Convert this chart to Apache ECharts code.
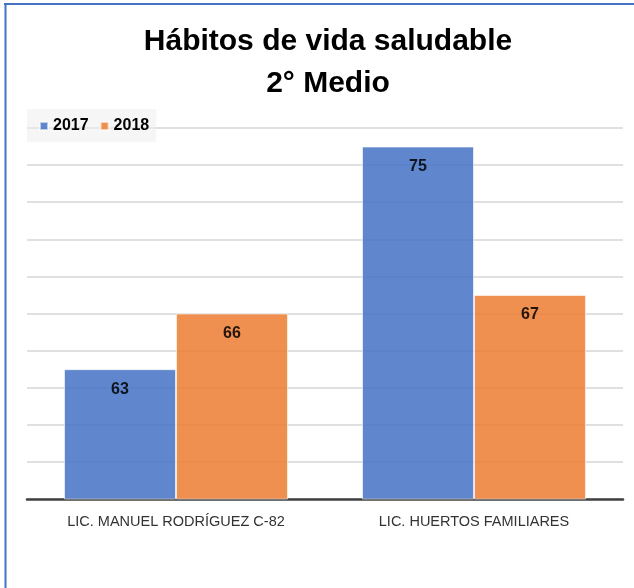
<!DOCTYPE html>
<html>
<head>
<meta charset="utf-8">
<title>Hábitos de vida saludable</title>
<script src="https://cdn.jsdelivr.net/npm/echarts@6/dist/echarts.min.js"></script>
<style>
    html, body {
        margin: 0;
        padding: 0;
        background: #fff;
    }
    #chart {
        width: 634px;
        height: 588px;
    }
</style>
</head>
<body>
<div id="chart"></div>
<script>
// data
const categories = ['LIC. MANUEL RODRÍGUEZ C-82', 'LIC. HUERTOS FAMILIARES'];
const years = ['2017', '2018'];
const values2017 = [63, 75];
const values2018 = [66, 67];

const font = 'Liberation Sans';

const chart = echarts.init(document.getElementById('chart'));

const option = {
    animation: false,
    backgroundColor: '#fff',
    title: {
        text: 'Hábitos de vida saludable\n2° Medio',
        left: 323,
        top: 16,
        textAlign: 'center',
        textStyle: {
            fontFamily: font,
            fontSize: 30,
            fontWeight: 'bold',
            color: '#000',
            lineHeight: 42
        }
    },
    legend: {
        data: years,
        left: 27,
        top: 109,
        padding: [9, 7, 8, 12],
        backgroundColor: 'rgba(238,238,238,0.5)',
        icon: 'rect',
        itemWidth: 8,
        itemHeight: 8,
        itemGap: 11,
        textStyle: {
            fontFamily: font,
            fontSize: 16,
            fontWeight: 'bold',
            color: '#000'
        }
    },
    grid: {
        left: 27,
        right: 11,
        top: 128,
        bottom: 89
    },
    xAxis: {
        type: 'category',
        data: categories,
        axisTick: { show: false },
        axisLine: {
            lineStyle: { color: '#404040', width: 2.5 }
        },
        axisLabel: {
            margin: 15,
            fontFamily: font,
            fontSize: 14.5,
            color: '#333'
        }
    },
    yAxis: {
        type: 'value',
        min: 56,
        max: 76,
        interval: 2,
        axisLabel: { show: false },
        axisLine: { show: false },
        axisTick: { show: false },
        splitLine: {
            lineStyle: { color: '#d6d6d6', width: 1.5 }
        }
    },
    series: [
        {
            name: '2017',
            type: 'bar',
            data: values2017,
            barWidth: 112,
            barGap: '0%',
            itemStyle: {
                color: '#4472C4',
                opacity: 0.85,
                borderColor: 'rgba(255,255,255,0.7)',
                borderWidth: 1
            },
            label: {
                show: true,
                position: 'insideTop',
                distance: 12,
                fontFamily: font,
                fontSize: 16,
                fontWeight: 'bold',
                color: '#000'
            }
        },
        {
            name: '2018',
            type: 'bar',
            data: values2018,
            barWidth: 112,
            barGap: '0%',
            itemStyle: {
                color: '#ED7D31',
                opacity: 0.85,
                borderColor: 'rgba(255,255,255,0.7)',
                borderWidth: 1
            },
            label: {
                show: true,
                position: 'insideTop',
                distance: 12,
                fontFamily: font,
                fontSize: 16,
                fontWeight: 'bold',
                color: '#000'
            }
        }
    ],
    // blue frame around the chart (cut at the right and bottom)
    graphic: [
        {
            type: 'line',
            shape: { x1: 4, y1: 4, x2: 634, y2: 4 },
            style: { stroke: '#4472C4', lineWidth: 2 }
        },
        {
            type: 'line',
            shape: { x1: 5.5, y1: 3, x2: 5.5, y2: 588 },
            style: { stroke: '#4472C4', lineWidth: 2 }
        }
    ]
};

chart.setOption(option);
</script>
</body>
</html>
